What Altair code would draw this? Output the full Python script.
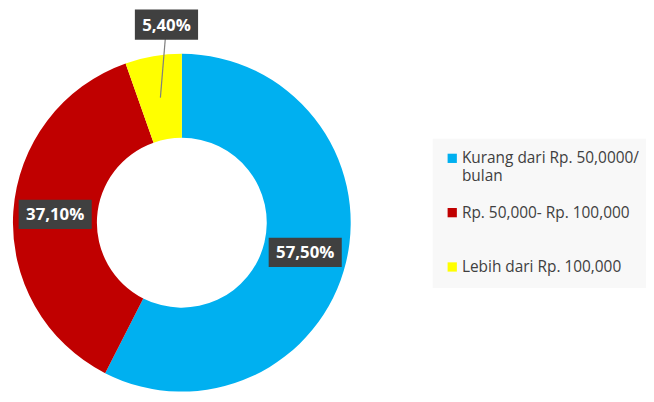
import altair as alt
import pandas as pd
import numpy as np

categories = ["Kurang dari Rp. 50,0000/ bulan", "Rp. 50,000- Rp. 100,000", "Lebih dari Rp. 100,000"]
values = [57.5, 37.1, 5.4]
labels = ["57,50%", "37,10%", "5,40%"]
colors = ["#00B0F0", "#C00000", "#FFFF00"]

W, H = 646, 386
CX, CY = 176, 215
R_OUT, R_IN = 171, 86
FONT = "Open Sans"

df = pd.DataFrame({"cat": categories, "value": values, "label": labels, "ord": list(range(len(values)))})
total = df["value"].sum()
cum = df["value"].cumsum()
mid = 2 * np.pi * (cum - df["value"] / 2) / total
ring_r = (R_OUT + R_IN) / 2 / R_OUT
df["mx"] = ring_r * np.sin(mid)
df["my"] = ring_r * np.cos(mid)
df["inside"] = df["value"] >= 10
out_r, out_shift = 1.19, 0.11
df["lx"] = np.where(df["inside"], df["mx"], out_r * np.sin(mid) + out_shift)
df["ly"] = np.where(df["inside"], df["my"], out_r * np.cos(mid))

xs = alt.Scale(domain=[-CX / R_OUT, (W - CX) / R_OUT], range=[0, W])
ys = alt.Scale(domain=[-(H - CY) / R_OUT, CY / R_OUT], range=[H, 0])

base = alt.Chart(df)

arcs = base.mark_arc(innerRadius=R_IN, outerRadius=R_OUT, strokeWidth=0).encode(
    theta=alt.Theta("value:Q", stack=True),
    order=alt.Order("ord:Q"),
    color=alt.Color("cat:N", scale=alt.Scale(domain=categories, range=colors),
                    legend=alt.Legend(
                        title=None,
                        labelExpr="datum.label == 'Kurang dari Rp. 50,0000/ bulan' ? ['Kurang dari Rp. 50,0000/', 'bulan'] : datum.label")),
    x=alt.value(CX), y=alt.value(CY),
)

outside = base.transform_filter("!datum.inside")
inside = base.transform_filter("datum.inside")

leader = outside.mark_rule(color="#7F7F7F", strokeWidth=1.2).encode(
    x=alt.X("mx:Q", scale=xs, axis=None),
    y=alt.Y("my:Q", scale=ys, axis=None),
    x2="lx:Q", y2="ly:Q",
)

box_in = inside.mark_point(filled=True, opacity=1, color="#404040",
                           shape="M-1,-0.4L1,-0.4L1,0.4L-1,0.4Z", size=74 * 74).encode(
    x=alt.X("lx:Q", scale=xs, axis=None),
    y=alt.Y("ly:Q", scale=ys, axis=None),
)
box_out = outside.mark_point(filled=True, opacity=1, color="#404040",
                             shape="M-1,-0.48L1,-0.48L1,0.48L-1,0.48Z", size=64 * 64).encode(
    x=alt.X("lx:Q", scale=xs, axis=None),
    y=alt.Y("ly:Q", scale=ys, axis=None),
)

txt = base.mark_text(font=FONT, fontSize=17, fontWeight="bold", color="white",
                     align="center", baseline="middle", dy=1).encode(
    x=alt.X("lx:Q", scale=xs, axis=None),
    y=alt.Y("ly:Q", scale=ys, axis=None),
    text="label:N",
)

chart = alt.layer(arcs, leader, box_in, box_out, txt).properties(
    width=W, height=H, padding=0, autosize=alt.AutoSizeParams(type="none"),
    background="white",
).configure_view(strokeWidth=0).configure_legend(
    orient="none", legendX=430, legendY=130,
    fillColor="#F8F8F8", padding=12,
    symbolType="square", symbolSize=88, symbolStrokeWidth=0,
    labelFont=FONT, labelFontSize=15.6, labelColor="#404040",
    labelOffset=2, labelLimit=400, rowPadding=21, gridAlign="all",
)

chart.save("out.html", embed_options={"renderer": "svg", "actions": False})
